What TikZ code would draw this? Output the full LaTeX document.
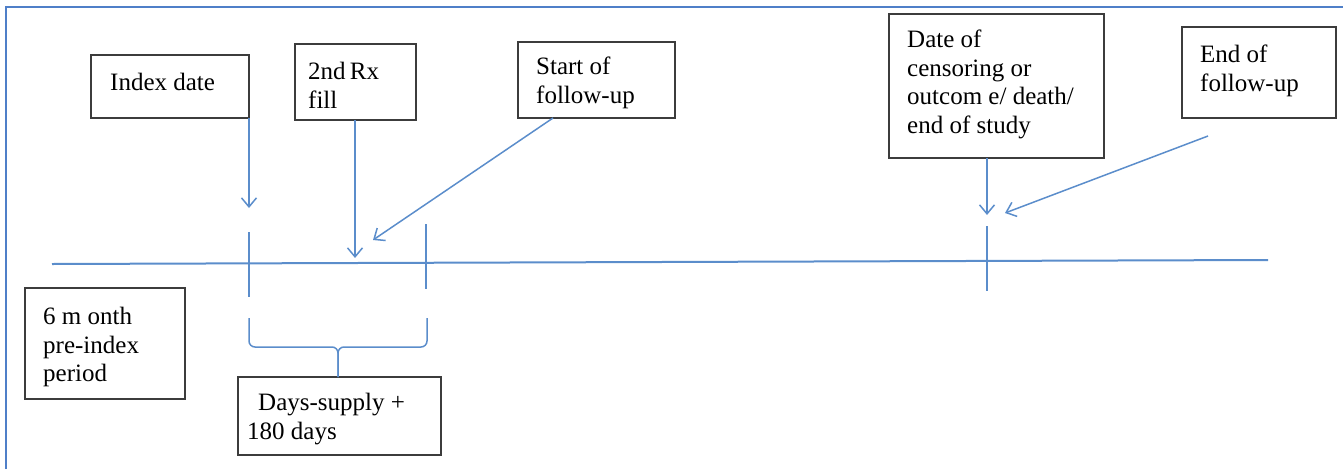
\documentclass[tikz,border=0pt]{standalone}
\usepackage{fontspec}
\setmainfont{Liberation Serif}
\usetikzlibrary{arrows.meta}
\definecolor{lineblue}{HTML}{5B8DCB}
\definecolor{framec}{HTML}{4F7FC8}
\definecolor{boxc}{HTML}{3C3C3C}
\begin{document}
\begin{tikzpicture}[x=1pt,y=-1pt,
  box/.style={draw=boxc,line width=2pt,inner sep=0pt,outer sep=0pt,anchor=north west},
  txt/.style={anchor=north west,inner sep=0pt,align=left,font=\fontsize{25}{28.5}\selectfont,text=black},
  conn/.style={draw=lineblue,line width=1.5pt},
  arr/.style={conn,-{Straight Barb[length=9pt,width=15pt,line width=1.5pt]}}]
\useasboundingbox (0,0) rectangle (1343,469);
% frame
\draw[framec,line width=2pt] (6,469) -- (6,7) -- (1343,7);
% boxes
\node[box,minimum width=158,minimum height=63] (idx) at (91,55) {};
\node[txt] at (110,73) {Index date};
\node[box,minimum width=121,minimum height=76] (rx) at (295,44) {};
\node[txt] at (308,62) {2nd\,Rx\\fill};
\node[box,minimum width=157,minimum height=76] (sof) at (518,42) {};
\node[txt] at (536,57) {Start of\\follow-up};
\node[box,minimum width=215,minimum height=144] (cen) at (889,14) {};
\node[txt] at (907,30) {Date of\\censoring or\\outcom e/ death/\\end of study};
\node[box,minimum width=154,minimum height=91] (eof) at (1182,27) {};
\node[txt] at (1200,45) {End of\\follow-up};
\node[box,minimum width=160,minimum height=111] (pre) at (25,288) {};
\node[txt] at (43,307) {6 m onth\\pre-index\\period};
\node[box,minimum width=203,minimum height=78] (days) at (238,377) {};
\node[txt] at (247,393) {\hspace{11pt}Days-supply +\\180 days};
% timeline
\coordinate (tl0) at (52,264);
\coordinate (tl1) at (1268,260);
\draw[conn,line width=2pt] (tl0) -- (tl1);
\coordinate (t1a) at (249,232); \coordinate (t1b) at (249,297);
\coordinate (t2a) at (426,224); \coordinate (t2b) at (426,289);
\coordinate (t3a) at (987,226); \coordinate (t3b) at (987,291);
\draw[conn] (t1a) -- (t1b);
\draw[conn] (t2a) -- (t2b);
\draw[conn] (t3a) -- (t3b);
% arrows
\coordinate (a1) at (249,208);
\coordinate (a2) at (355,258);
\coordinate (a3) at (373,240);
\coordinate (a4) at (987,215);
\coordinate (a5s) at (1208,136);
\coordinate (a5) at (1005,213);
\draw[arr] (idx.south east) -- (idx.south east |- a1);
\draw[arr] (rx.south west -| a2) -- (a2);
\draw[arr] ([xshift=35pt]sof.south west) -- (a3);
\draw[arr] (cen.south west -| a4) -- (a4);
\draw[arr] (a5s) -- (a5);
% brace
\coordinate (b1) at (249,318);
\coordinate (b2) at (427,318);
\coordinate (bm) at (338,347);
\draw[conn,rounded corners=6pt] (b1) |- (bm) -- (days.north -| bm);
\draw[conn,rounded corners=6pt] (b2) |- (bm) -- (days.north -| bm);
\end{tikzpicture}
\end{document}
